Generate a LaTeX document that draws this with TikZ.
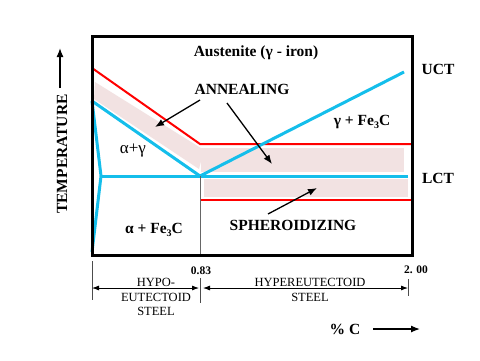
\documentclass[tikz,border=0pt]{standalone}
\usepackage{fontspec}
\setmainfont{Liberation Serif}
\usetikzlibrary{arrows.meta}
\definecolor{cyanline}{RGB}{20,190,235}
\definecolor{hatch}{RGB}{242,226,226}
\definecolor{redline}{RGB}{255,0,0}
\newcommand{\subthree}{\raisebox{-0.4ex}{\fontsize{10bp}{10bp}\selectfont 3}}
\begin{document}
\begin{tikzpicture}[x=1bp,y=-1bp,
  lbl/.style={font=\bfseries\fontsize{15.5bp}{17bp}\selectfont, inner sep=0},
  dimtxt/.style={font=\fontsize{12.5bp}{13bp}\selectfont, inner sep=0},
  numtxt/.style={font=\bfseries\fontsize{11.5bp}{13bp}\selectfont, inner sep=0},
  ptr/.style={-{Latex[length=9bp,width=7bp]}, line width=1.3bp},
  dimarr/.style={{Latex[length=7bp,width=5bp]}-{Latex[length=7bp,width=5bp]}, line width=0.8bp},
  ticks/.style={draw=black!70, line width=0.8bp},
  redl/.style={draw=redline, line width=2bp},
  bluel/.style={draw=cyanline, line width=3bp, line join=round},
  band/.style={fill=hatch, draw=none}]
\useasboundingbox[fill=white] (0,0) rectangle (480,360);
% hatched bands
\fill[band] (95,82) -- (204,150) -- (199,169) -- (94,99) -- cycle;
\fill[band] (201,148) rectangle (404,172);
\fill[band] (204,179) rectangle (408,197);
% coordinates
\coordinate (redA) at (92,68);
\coordinate (redB) at (200,144);
\coordinate (redC) at (412,144);
\coordinate (redD) at (200,200);
\coordinate (redE) at (412,200);
\coordinate (bA) at (92,101);
\coordinate (eut) at (200,176);
\coordinate (uctpt) at (404,72);
\coordinate (lctL) at (101,176);
\coordinate (lctR) at (408,176);
\coordinate (bBot) at (92,252);
\coordinate (eutBot) at (200,255);
% red lines
\draw[redl] (redA) -- (redB) -- (redC);
\draw[redl] (redD) -- (redE);
% blue lines
\draw[bluel] (bA) -- (eut) -- (uctpt);
\draw[bluel] (lctL) -- (lctR);
\draw[bluel] (bA) -- (lctL) -- (bBot);
% gray divider
\draw[draw=black!60, line width=0.8bp] (eut) -- (eutBot);
% box
\draw[line width=3bp] (92,36) rectangle (412,255);
% labels
\node[lbl] (aus) at (256,53) {Austenite (γ - iron)};
\node[lbl] (ann) at (242,89) {ANNEALING};
\node[lbl] (uct) at (438,69) {UCT};
\node[lbl] (lct) at (438,178) {LCT};
\node[lbl] (gfe) at (362,122) {γ + Fe\subthree C};
\node[font=\fontsize{17bp}{18bp}\selectfont, inner sep=0] (ag) at (133,150) {α+γ};
\node[lbl] (afe) at (154,230) {α + Fe\subthree C};
\node[lbl] (sph) at (293,225) {SPHEROIDIZING};
\node[lbl, rotate=90] (temp) at (62,154) {TEMPERATURE};
\node[lbl] (pc) at (345,329) {\% C};
\node[dimtxt] (hypo1) at (156,282) {HYPO-};
\node[dimtxt] (hypo2) at (156,297) {EUTECTOID};
\node[dimtxt] (hypo3) at (156,311) {STEEL};
\node[dimtxt] (hyper1) at (310,282) {HYPEREUTECTOID};
\node[dimtxt] (hyper2) at (310,297) {STEEL};
\node[numtxt] (v083) at (201,271) {0.83};
\node[numtxt] (v200) at (416,270) {2. 00};
% pointer arrows
\coordinate (a1s) at (200,100); \coordinate (a1e) at (155,127);
\coordinate (a2s) at (227,103); \coordinate (a2e) at (272,164);
\coordinate (a3s) at (268,214); \coordinate (a3e) at (317,188);
\draw[ptr] (a1s) -- (a1e);
\draw[ptr] (a2s) -- (a2e);
\draw[ptr] (a3s) -- (a3e);
\coordinate (tA) at (60,88); \coordinate (tB) at (60,48);
\draw[ptr] (tA) -- (tB);
\coordinate (cA) at (373,329); \coordinate (cB) at (420,329);
\draw[ptr] (cA) -- (cB);
% dimension lines
\coordinate (t1a) at (92,261); \coordinate (t1b) at (92,300);
\coordinate (t2a) at (200,278); \coordinate (t2b) at (200,303);
\coordinate (t3a) at (408,279); \coordinate (t3b) at (408,296);
\draw[ticks] (t1a) -- (t1b);
\draw[ticks] (t2a) -- (t2b);
\draw[ticks] (t3a) -- (t3b);
\coordinate (d1a) at (92,288); \coordinate (d1b) at (199,288);
\coordinate (d2a) at (203,288); \coordinate (d2b) at (408,288);
\draw[dimarr] (d1a) -- (d1b);
\draw[dimarr] (d2a) -- (d2b);
\end{tikzpicture}
\end{document}
